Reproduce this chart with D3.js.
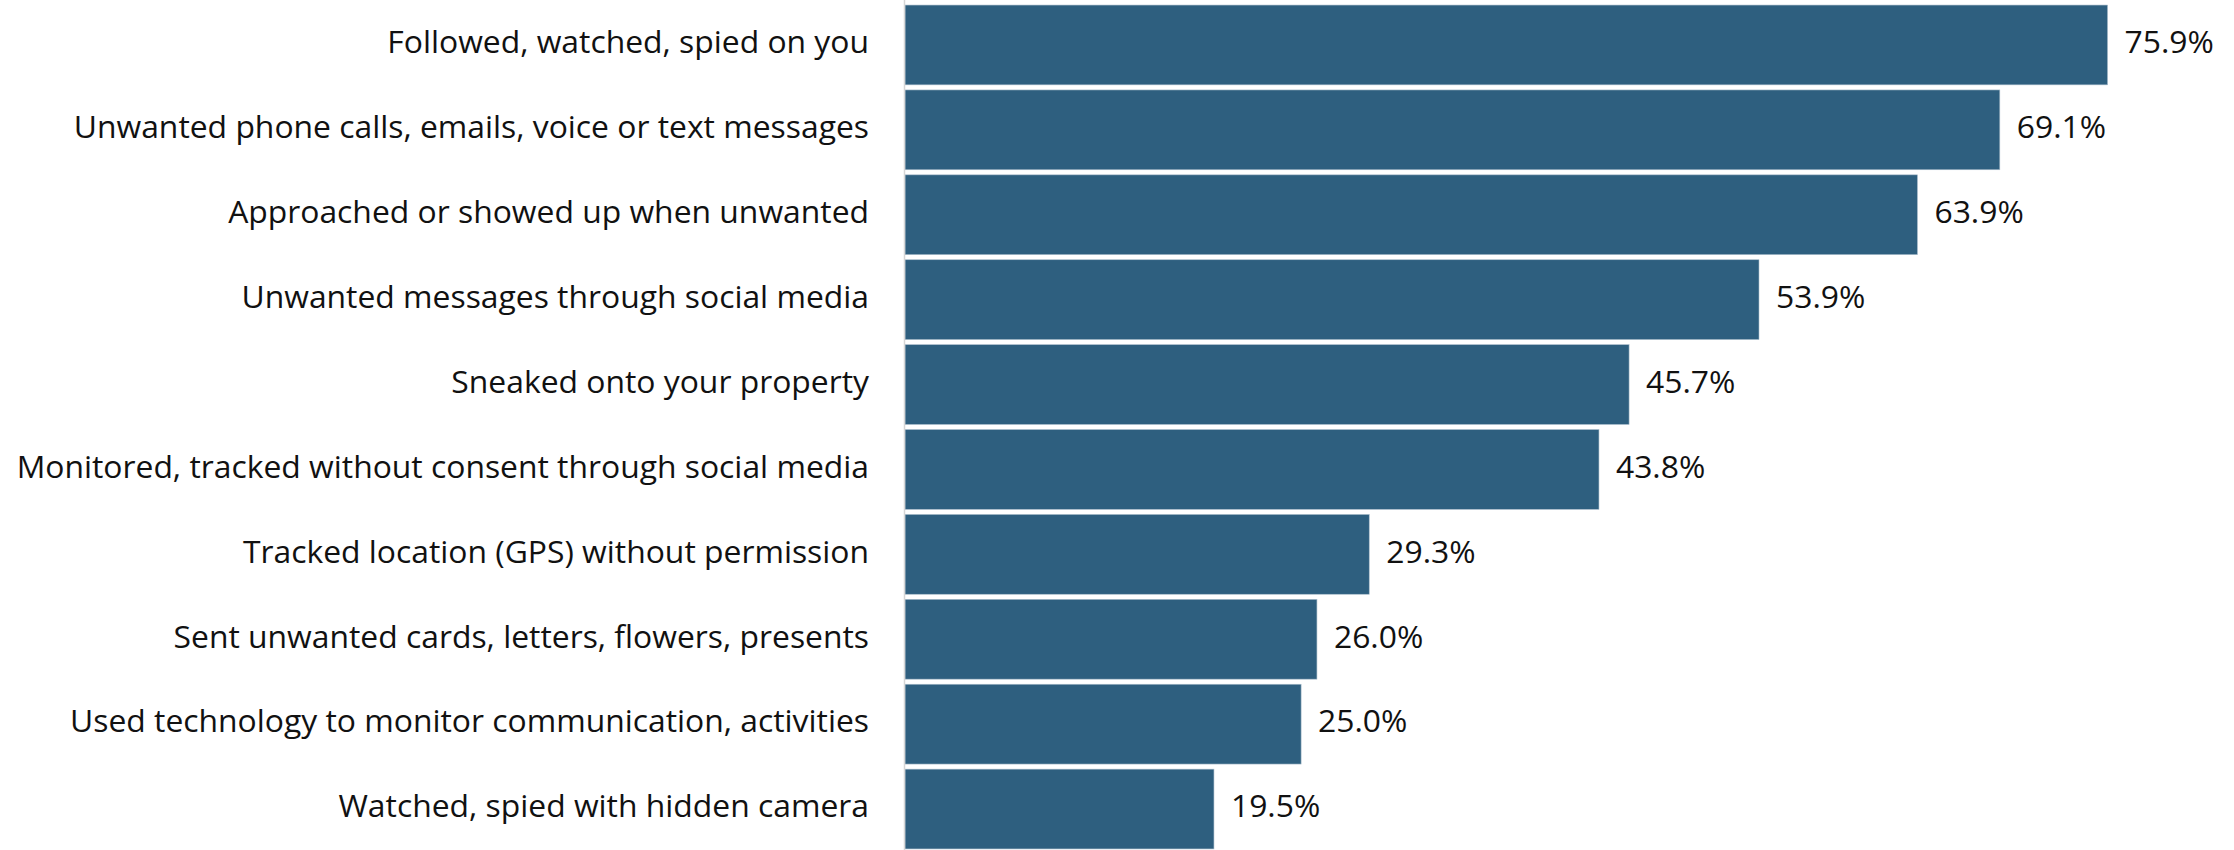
<!DOCTYPE html>
<html>
<head>
<meta charset="utf-8">
<script src="https://cdn.jsdelivr.net/npm/d3@7"></script>
<style>
  html, body { margin: 0; padding: 0; background: #fff; }
  svg { display: block; }
  text { font-family: "Open Sans", "Noto Sans", sans-serif; fill: #111; }
</style>
</head>
<body>
<svg id="chart" width="2234" height="850"></svg>
<script>
const categories = [
  "Followed, watched, spied on you",
  "Unwanted phone calls, emails, voice or text messages",
  "Approached or showed up when unwanted",
  "Unwanted messages through social media",
  "Sneaked onto your property",
  "Monitored, tracked without consent through social media",
  "Tracked location (GPS) without permission",
  "Sent unwanted cards, letters, flowers, presents",
  "Used technology to monitor communication, activities",
  "Watched, spied with hidden camera"
];
const values = [75.9, 69.1, 63.9, 53.9, 45.7, 43.8, 29.3, 26.0, 25.0, 19.5];

const svg = d3.select("#chart");
const W = 2234, H = 850;
const x0 = 905;

const x = d3.scaleLinear().domain([0, 100]).range([x0, x0 + 1584.4]);
const y = d3.scaleBand().domain(categories).range([2.5, 851.5])
  .paddingInner(0.06).paddingOuter(0.03);

// bars
svg.append("g").selectAll("rect")
  .data(values)
  .join("rect")
  .attr("x", x(0))
  .attr("y", (d, i) => y(categories[i]))
  .attr("width", d => x(d) - x(0))
  .attr("height", y.bandwidth())
  .attr("fill", "#2e5f7f")
  .attr("stroke", "#a9bccb")
  .attr("stroke-width", 0.6);

// y axis line
svg.append("line")
  .attr("x1", x0 - 0.5).attr("x2", x0 - 0.5)
  .attr("y1", 0).attr("y2", H)
  .attr("stroke", "#d6d6d6").attr("stroke-width", 1.5);

// category labels
svg.append("g").selectAll("text")
  .data(categories)
  .join("text")
  .attr("x", x0 - 36)
  .attr("y", d => y(d) + y.bandwidth() / 2)
  .attr("dy", "0.26em")
  .attr("text-anchor", "end")
  .style("font-size", "31.85px")
  .text(d => d);

// value labels
const fmt = d3.format(".1f");
svg.append("g").selectAll("text")
  .data(values)
  .join("text")
  .attr("x", d => x(d) + 17)
  .attr("y", (d, i) => y(categories[i]) + y.bandwidth() / 2)
  .attr("dy", "0.26em")
  .attr("text-anchor", "start")
  .style("font-size", "31.85px")
  .text(d => fmt(d) + "%");
</script>
</body>
</html>
